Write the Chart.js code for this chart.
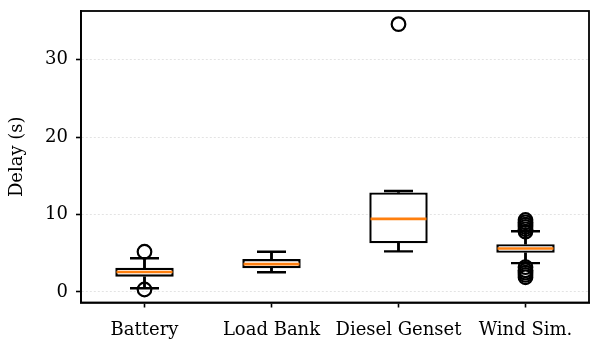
<!DOCTYPE html>
<html>
<head>
<meta charset="utf-8">
<script src="https://cdn.jsdelivr.net/npm/chart.js@4/dist/chart.umd.min.js"></script>
<style>
  html, body { margin: 0; padding: 0; background: #fff; }
  #wrap { width: 592px; height: 343px; }
</style>
</head>
<body>
<div id="wrap"><canvas id="chartBox"></canvas></div>
<script>
// ── Datos ────────────────────────────────────────────────────
const categories = ['Battery', 'Load Bank', 'Diesel Genset', 'Wind Sim.'];
const q1 = [1.97, 3.05, 6.28, 5.06];
const q3 = [3.14, 4.25, 12.86, 6.18];
const medians = [2.58, 3.6, 9.45, 5.62];
const whiskerLow = [0.48, 2.55, 5.25, 3.73];
const whiskerHigh = [4.35, 5.2, 13.05, 7.85];
const outliers = [
    [5.2, 0.32],
    [],
    [34.6],
    [7.8, 8.1, 8.4, 8.7, 9.0, 9.3, 3.2, 2.8, 2.5, 2.2, 1.9]
];
const yTicks = [0, 10, 20, 30];
const yLimits = [-1.36, 36.3];

const FONT = { family: 'DejaVu Serif', size: 18 };
const ORANGE = '#ff7f0e';

const outlierPoints = [];
outliers.forEach((vals, i) => vals.forEach(v => outlierPoints.push({ x: categories[i], y: v })));

// marco completo (matplotlib dibuja los 4 lados)
const frame = {
    id: 'frame',
    afterDatasetsDraw(chart) {
        const { ctx, chartArea: a } = chart;
        ctx.save();
        ctx.strokeStyle = '#000';
        ctx.lineWidth = 1.8;
        ctx.strokeRect(a.left, a.top, a.right - a.left, a.bottom - a.top);
        ctx.restore();
    }
};

new Chart(document.getElementById('chartBox'), {
    type: 'bar',
    data: {
        labels: categories,
        datasets: [
            {   // bigotes inferiores
                data: whiskerLow.map((v, i) => [v, q1[i]]),
                backgroundColor: '#000', barThickness: 2.2, grouped: false, order: 5
            },
            {   // bigotes superiores
                data: whiskerHigh.map((v, i) => [q3[i], v]),
                backgroundColor: '#000', barThickness: 2.2, grouped: false, order: 5
            },
            {   // cajas
                data: q1.map((v, i) => [v, q3[i]]),
                backgroundColor: '#fff', borderColor: '#000', borderWidth: 2.4,
                borderSkipped: false, barPercentage: 0.46, categoryPercentage: 1,
                grouped: false, order: 3
            },
            {   // topes inferiores
                type: 'line', data: whiskerLow, showLine: false,
                pointStyle: 'line', pointRadius: 14.5, pointBorderWidth: 2.4,
                pointBorderColor: '#000', order: 4
            },
            {   // topes superiores
                type: 'line', data: whiskerHigh, showLine: false,
                pointStyle: 'line', pointRadius: 14.5, pointBorderWidth: 2.4,
                pointBorderColor: '#000', order: 4
            },
            {   // medianas
                type: 'line', data: medians, showLine: false,
                pointStyle: 'line', pointRadius: 28, pointBorderWidth: 2.6,
                pointBorderColor: ORANGE, order: 2
            },
            {   // atípicos
                type: 'line', data: outlierPoints, showLine: false,
                pointStyle: 'circle', pointRadius: 6.8, pointBorderWidth: 2.2,
                pointBorderColor: '#000', pointBackgroundColor: 'rgba(0,0,0,0)', order: 1
            }
        ]
    },
    options: {
        responsive: true,
        maintainAspectRatio: false,
        animation: false,
        events: [],
        layout: { autoPadding: false, padding: { left: 0, right: 3, top: 11, bottom: 0 } },
        plugins: { legend: { display: false }, tooltip: { enabled: false } },
        scales: {
            x: {
                offset: true,
                grid: { display: true, offset: false, drawOnChartArea: false, drawTicks: true, tickLength: 5, tickColor: '#000', tickWidth: 1.6 },
                border: { display: true, color: '#000', width: 1.8 },
                ticks: { color: '#000', font: FONT, padding: 12, maxRotation: 0, autoSkip: false },
                afterFit(s) { s.height = 40.5; s.paddingLeft = 0; s.paddingRight = 0; }
            },
            y: {
                min: yLimits[0],
                max: yLimits[1],
                afterBuildTicks(s) { s.ticks = yTicks.map(v => ({ value: v })); },
                grid: { color: '#dcdcdc', lineWidth: 0.8, drawTicks: true, tickLength: 5, tickColor: '#000', tickWidth: 1.6 },
                border: { display: true, color: '#000', width: 1.8, dash: [2, 2] },
                ticks: { color: '#000', font: FONT, padding: 8 },
                title: { display: true, text: 'Delay (s)', color: '#000', font: FONT, padding: { top: 7, bottom: 4 } },
                afterFit(s) { s.width = 81; s.paddingTop = 0; s.paddingBottom = 0; }
            }
        }
    },
    plugins: [frame]
});
</script>
</body>
</html>
